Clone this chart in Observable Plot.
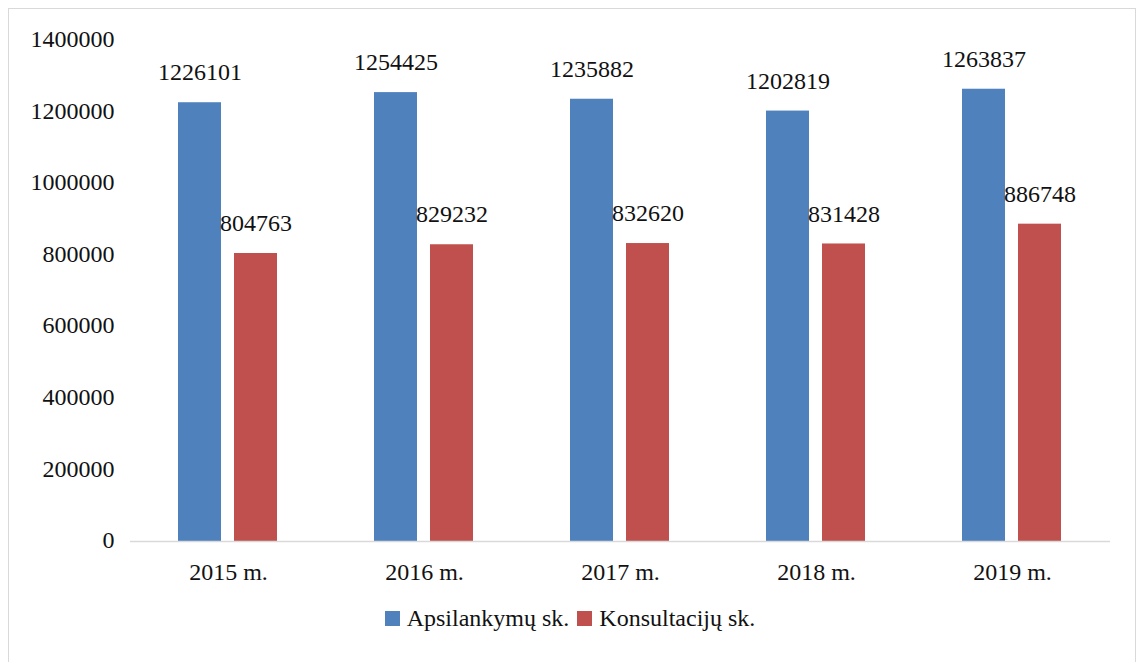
<!DOCTYPE html>
<html>
<head>
<meta charset="utf-8">
<script src="https://cdn.jsdelivr.net/npm/d3@7"></script>
<script src="https://cdn.jsdelivr.net/npm/@observablehq/plot@0.6"></script>
</head>
<body style="margin:0;padding:0;background:#fff;width:1140px;height:662px;position:relative;overflow:hidden;font-family:'Liberation Serif';">
<div id="chart" style="position:absolute;left:0;top:0;font-family:'Liberation Serif';"></div>
<div id="frame" style="position:absolute;left:8px;top:8px;width:1128px;height:670px;border:1px solid #d9d9d9;box-sizing:border-box;pointer-events:none;"></div>
<div id="legend" style="position:absolute;left:0;top:605px;width:1140px;display:flex;justify-content:center;align-items:center;font-size:24px;color:#111;font-family:'Liberation Serif';"></div>
<script>
const years = ["2015 m.", "2016 m.", "2017 m.", "2018 m.", "2019 m."];
const seriesNames = ["Apsilankymų sk.", "Konsultacijų sk."];
const apsilankymai = [1226101, 1254425, 1235882, 1202819, 1263837];
const konsultacijos = [804763, 829232, 832620, 831428, 886748];
const colors = ["#4F81BD", "#C0504D"];
const yTicks = [0, 200000, 400000, 600000, 800000, 1000000, 1200000, 1400000];

const rows = [];
years.forEach((yr, i) => {
  rows.push({year: yr, series: seriesNames[0], value: apsilankymai[i]});
  rows.push({year: yr, series: seriesNames[1], value: konsultacijos[i]});
});

const font = "'Liberation Serif'";

const chart = Plot.plot({
  width: 1140,
  height: 600,
  marginLeft: 128,
  marginRight: 29,
  marginTop: 40,
  marginBottom: 59,
  style: "font-family:'Liberation Serif';font-size:24px;color:#111;background:transparent;",
  fx: {domain: years, padding: 0, label: null},
  x: {domain: seriesNames, paddingInner: 0.23, paddingOuter: 0.86, axis: null},
  y: {domain: [0, 1400000], axis: null},
  color: {domain: seriesNames, range: colors},
  marks: [
    Plot.barY(rows, {fx: "year", x: "series", y: "value", fill: "series"}),
    Plot.ruleY([0], {stroke: "#d9d9d9", strokeWidth: 1.5}),
    Plot.axisY({ticks: yTicks, tickSize: 0, tickPadding: 16, tickFormat: d3.format("d"), fontSize: 24, dy: -1, label: null}),
    Plot.axisFx({anchor: "bottom", tickSize: 0, tickPadding: 21, fontSize: 24, label: null}),
    Plot.text(rows, {fx: "year", x: "series", y: "value", text: d => String(d.value), dy: -30, fontSize: 24, fill: "#111"})
  ]
});
chart.setAttribute("font-family", "Liberation Serif");
d3.select(chart).selectAll("text").attr("font-family", "Liberation Serif").style("font-family", font);
document.getElementById("chart").appendChild(chart);

const legend = document.getElementById("legend");
seriesNames.forEach((name, i) => {
  const item = document.createElement("div");
  item.style.cssText = "display:flex;align-items:center;margin:0 4px;font-family:'Liberation Serif';";
  const sw = document.createElement("span");
  sw.style.cssText = "width:15px;height:15px;margin-right:7px;display:inline-block;background:" + colors[i] + ";";
  const t = document.createElement("span");
  t.style.fontFamily = font;
  t.textContent = name;
  item.appendChild(sw);
  item.appendChild(t);
  legend.appendChild(item);
});
</script>
</body>
</html>
